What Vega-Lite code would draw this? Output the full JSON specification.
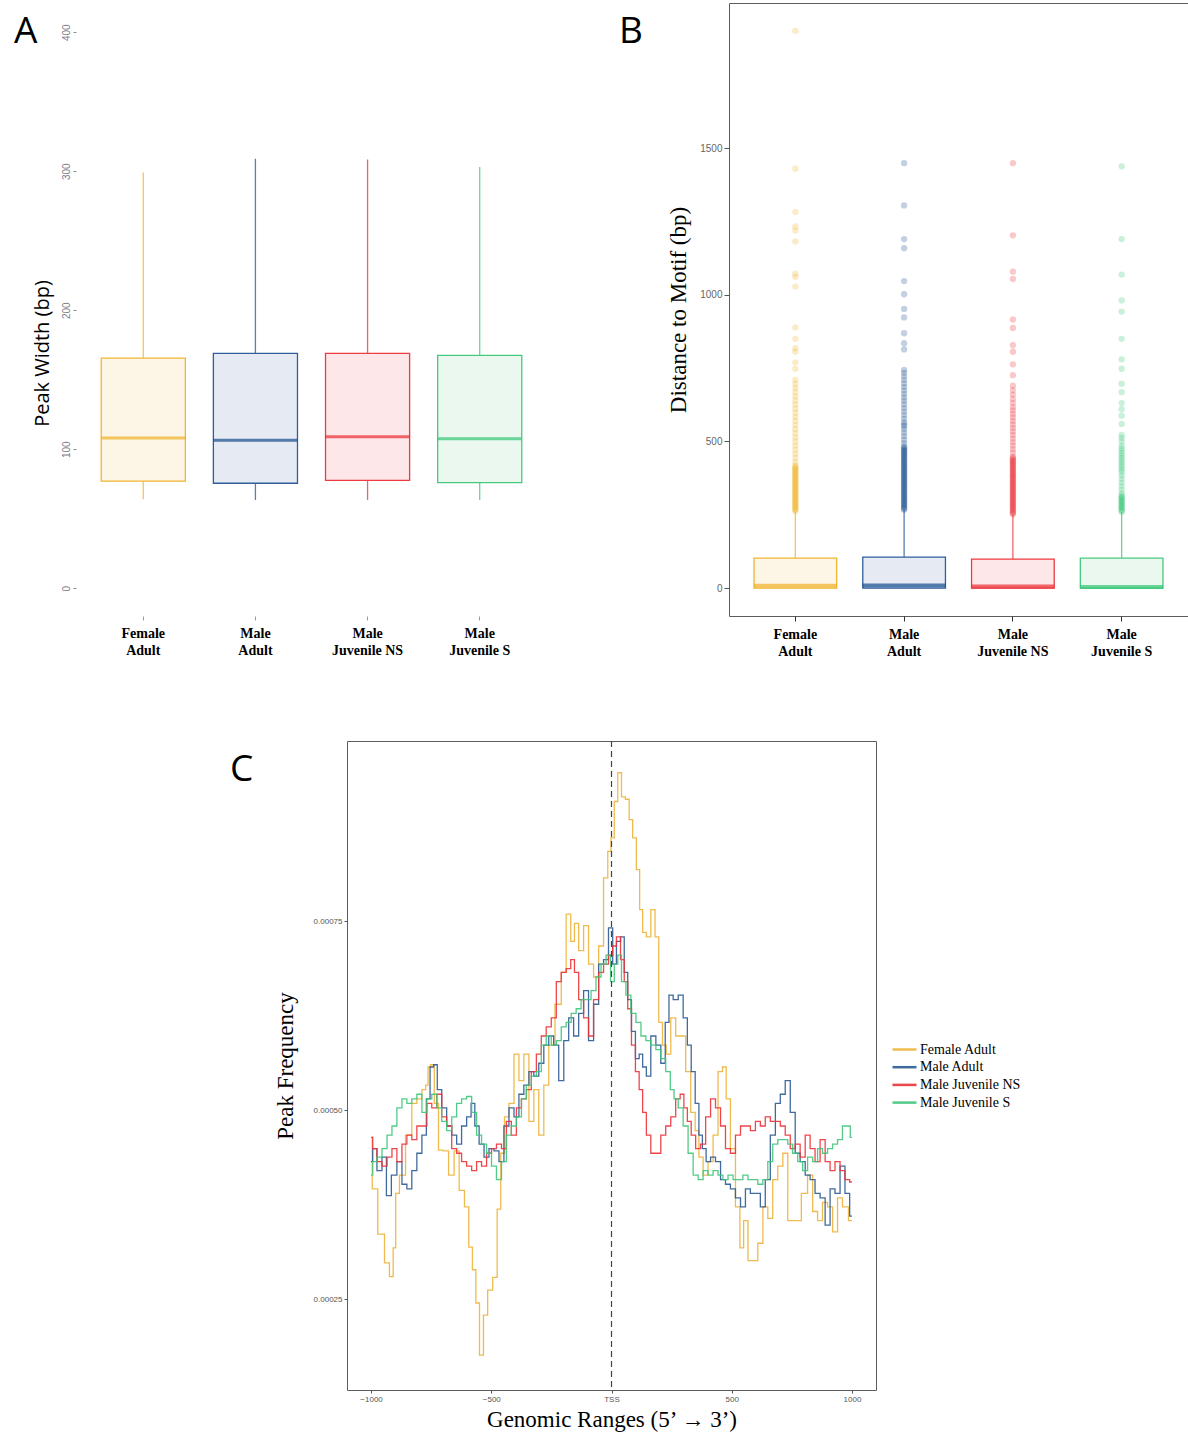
{
  "$schema": "https://vega.github.io/schema/vega-lite/v6.json",
  "padding": {"left": 14, "top": 2, "right": 0, "bottom": 0},
  "background": "white",
  "spacing": 80,
  "resolve": {"scale": {"color": "independent", "stroke": "independent", "fill": "independent"}, "legend": {"color": "independent"}},
  "config": {
    "view": {"stroke": null},
    "axis": {"grid": false},
    "font": "Liberation Sans"
  },
  "datasets": {
    "widthBoxes": [
      {"group": "Female Adult", "lo": 64, "q1": 77, "med": 108, "q3": 165.5, "hi": 299},
      {"group": "Male Adult", "lo": 63.5, "q1": 75.5, "med": 106.5, "q3": 169, "hi": 309},
      {"group": "Male Juvenile NS", "lo": 63.5, "q1": 77.5, "med": 109, "q3": 169, "hi": 308.5},
      {"group": "Male Juvenile S", "lo": 63.5, "q1": 76, "med": 107.5, "q3": 167.5, "hi": 303}
    ],
    "motifBoxes": [
      {"group": "Female Adult", "q1": 0, "med": 8, "q3": 102, "hi": 262},
      {"group": "Male Adult", "q1": 0, "med": 9, "q3": 106, "hi": 267},
      {"group": "Male Juvenile NS", "q1": 0, "med": 6, "q3": 99, "hi": 252},
      {"group": "Male Juvenile S", "q1": 0, "med": 4, "q3": 102, "hi": 260}
    ],
    "outliers": [
      {"group": "Female Adult", "dist": 262}, {"group": "Female Adult", "dist": 266}, {"group": "Female Adult", "dist": 270}, {"group": "Female Adult", "dist": 274}, {"group": "Female Adult", "dist": 278}, {"group": "Female Adult", "dist": 282}, {"group": "Female Adult", "dist": 286}, {"group": "Female Adult", "dist": 290}, {"group": "Female Adult", "dist": 294}, {"group": "Female Adult", "dist": 298}, {"group": "Female Adult", "dist": 302}, {"group": "Female Adult", "dist": 306}, {"group": "Female Adult", "dist": 310}, {"group": "Female Adult", "dist": 314}, {"group": "Female Adult", "dist": 318}, {"group": "Female Adult", "dist": 322}, {"group": "Female Adult", "dist": 326}, {"group": "Female Adult", "dist": 330}, {"group": "Female Adult", "dist": 334}, {"group": "Female Adult", "dist": 338}, {"group": "Female Adult", "dist": 342}, {"group": "Female Adult", "dist": 346}, {"group": "Female Adult", "dist": 350}, {"group": "Female Adult", "dist": 354}, {"group": "Female Adult", "dist": 358}, {"group": "Female Adult", "dist": 362}, {"group": "Female Adult", "dist": 366}, {"group": "Female Adult", "dist": 370}, {"group": "Female Adult", "dist": 374}, {"group": "Female Adult", "dist": 378}, {"group": "Female Adult", "dist": 382}, {"group": "Female Adult", "dist": 386}, {"group": "Female Adult", "dist": 390}, {"group": "Female Adult", "dist": 394}, {"group": "Female Adult", "dist": 398}, {"group": "Female Adult", "dist": 402}, {"group": "Female Adult", "dist": 406}, {"group": "Female Adult", "dist": 410}, {"group": "Female Adult", "dist": 414}, {"group": "Female Adult", "dist": 418},
      {"group": "Female Adult", "dist": 430}, {"group": "Female Adult", "dist": 444}, {"group": "Female Adult", "dist": 458}, {"group": "Female Adult", "dist": 472}, {"group": "Female Adult", "dist": 486}, {"group": "Female Adult", "dist": 500}, {"group": "Female Adult", "dist": 514}, {"group": "Female Adult", "dist": 528}, {"group": "Female Adult", "dist": 542}, {"group": "Female Adult", "dist": 556}, {"group": "Female Adult", "dist": 570}, {"group": "Female Adult", "dist": 584}, {"group": "Female Adult", "dist": 598}, {"group": "Female Adult", "dist": 612}, {"group": "Female Adult", "dist": 626}, {"group": "Female Adult", "dist": 640}, {"group": "Female Adult", "dist": 654}, {"group": "Female Adult", "dist": 668}, {"group": "Female Adult", "dist": 682}, {"group": "Female Adult", "dist": 696}, {"group": "Female Adult", "dist": 710},
      {"group": "Female Adult", "dist": 748}, {"group": "Female Adult", "dist": 770}, {"group": "Female Adult", "dist": 806}, {"group": "Female Adult", "dist": 818}, {"group": "Female Adult", "dist": 850}, {"group": "Female Adult", "dist": 889}, {"group": "Female Adult", "dist": 1028}, {"group": "Female Adult", "dist": 1061}, {"group": "Female Adult", "dist": 1072}, {"group": "Female Adult", "dist": 1182}, {"group": "Female Adult", "dist": 1219}, {"group": "Female Adult", "dist": 1233}, {"group": "Female Adult", "dist": 1282}, {"group": "Female Adult", "dist": 1430}, {"group": "Female Adult", "dist": 1900},
      {"group": "Male Adult", "dist": 267}, {"group": "Male Adult", "dist": 271}, {"group": "Male Adult", "dist": 275}, {"group": "Male Adult", "dist": 279}, {"group": "Male Adult", "dist": 283}, {"group": "Male Adult", "dist": 287}, {"group": "Male Adult", "dist": 291}, {"group": "Male Adult", "dist": 295}, {"group": "Male Adult", "dist": 299}, {"group": "Male Adult", "dist": 303}, {"group": "Male Adult", "dist": 307}, {"group": "Male Adult", "dist": 311}, {"group": "Male Adult", "dist": 315}, {"group": "Male Adult", "dist": 319}, {"group": "Male Adult", "dist": 323}, {"group": "Male Adult", "dist": 327}, {"group": "Male Adult", "dist": 331}, {"group": "Male Adult", "dist": 335}, {"group": "Male Adult", "dist": 339}, {"group": "Male Adult", "dist": 343}, {"group": "Male Adult", "dist": 347}, {"group": "Male Adult", "dist": 351}, {"group": "Male Adult", "dist": 355}, {"group": "Male Adult", "dist": 359}, {"group": "Male Adult", "dist": 363}, {"group": "Male Adult", "dist": 367}, {"group": "Male Adult", "dist": 371}, {"group": "Male Adult", "dist": 375}, {"group": "Male Adult", "dist": 379}, {"group": "Male Adult", "dist": 383}, {"group": "Male Adult", "dist": 387}, {"group": "Male Adult", "dist": 391}, {"group": "Male Adult", "dist": 395}, {"group": "Male Adult", "dist": 399}, {"group": "Male Adult", "dist": 403}, {"group": "Male Adult", "dist": 407}, {"group": "Male Adult", "dist": 411}, {"group": "Male Adult", "dist": 415}, {"group": "Male Adult", "dist": 419}, {"group": "Male Adult", "dist": 423}, {"group": "Male Adult", "dist": 427}, {"group": "Male Adult", "dist": 431}, {"group": "Male Adult", "dist": 435}, {"group": "Male Adult", "dist": 439}, {"group": "Male Adult", "dist": 443}, {"group": "Male Adult", "dist": 447}, {"group": "Male Adult", "dist": 451}, {"group": "Male Adult", "dist": 455}, {"group": "Male Adult", "dist": 459}, {"group": "Male Adult", "dist": 463}, {"group": "Male Adult", "dist": 467}, {"group": "Male Adult", "dist": 471}, {"group": "Male Adult", "dist": 475}, {"group": "Male Adult", "dist": 479}, {"group": "Male Adult", "dist": 483},
      {"group": "Male Adult", "dist": 494}, {"group": "Male Adult", "dist": 506}, {"group": "Male Adult", "dist": 518}, {"group": "Male Adult", "dist": 530}, {"group": "Male Adult", "dist": 542}, {"group": "Male Adult", "dist": 552}, {"group": "Male Adult", "dist": 558}, {"group": "Male Adult", "dist": 566}, {"group": "Male Adult", "dist": 578}, {"group": "Male Adult", "dist": 590}, {"group": "Male Adult", "dist": 602}, {"group": "Male Adult", "dist": 614}, {"group": "Male Adult", "dist": 626}, {"group": "Male Adult", "dist": 638}, {"group": "Male Adult", "dist": 650}, {"group": "Male Adult", "dist": 662}, {"group": "Male Adult", "dist": 674}, {"group": "Male Adult", "dist": 686}, {"group": "Male Adult", "dist": 698}, {"group": "Male Adult", "dist": 710}, {"group": "Male Adult", "dist": 722}, {"group": "Male Adult", "dist": 734}, {"group": "Male Adult", "dist": 744},
      {"group": "Male Adult", "dist": 814}, {"group": "Male Adult", "dist": 835}, {"group": "Male Adult", "dist": 869}, {"group": "Male Adult", "dist": 923}, {"group": "Male Adult", "dist": 952}, {"group": "Male Adult", "dist": 1002}, {"group": "Male Adult", "dist": 1047}, {"group": "Male Adult", "dist": 1159}, {"group": "Male Adult", "dist": 1190}, {"group": "Male Adult", "dist": 1305}, {"group": "Male Adult", "dist": 1449},
      {"group": "Male Juvenile NS", "dist": 252}, {"group": "Male Juvenile NS", "dist": 256}, {"group": "Male Juvenile NS", "dist": 260}, {"group": "Male Juvenile NS", "dist": 264}, {"group": "Male Juvenile NS", "dist": 268}, {"group": "Male Juvenile NS", "dist": 272}, {"group": "Male Juvenile NS", "dist": 276}, {"group": "Male Juvenile NS", "dist": 280}, {"group": "Male Juvenile NS", "dist": 284}, {"group": "Male Juvenile NS", "dist": 288}, {"group": "Male Juvenile NS", "dist": 292}, {"group": "Male Juvenile NS", "dist": 296}, {"group": "Male Juvenile NS", "dist": 300}, {"group": "Male Juvenile NS", "dist": 304}, {"group": "Male Juvenile NS", "dist": 308}, {"group": "Male Juvenile NS", "dist": 312}, {"group": "Male Juvenile NS", "dist": 316}, {"group": "Male Juvenile NS", "dist": 320}, {"group": "Male Juvenile NS", "dist": 324}, {"group": "Male Juvenile NS", "dist": 328}, {"group": "Male Juvenile NS", "dist": 332}, {"group": "Male Juvenile NS", "dist": 336}, {"group": "Male Juvenile NS", "dist": 340}, {"group": "Male Juvenile NS", "dist": 344}, {"group": "Male Juvenile NS", "dist": 348}, {"group": "Male Juvenile NS", "dist": 352}, {"group": "Male Juvenile NS", "dist": 356}, {"group": "Male Juvenile NS", "dist": 360}, {"group": "Male Juvenile NS", "dist": 364}, {"group": "Male Juvenile NS", "dist": 368}, {"group": "Male Juvenile NS", "dist": 372}, {"group": "Male Juvenile NS", "dist": 376}, {"group": "Male Juvenile NS", "dist": 380}, {"group": "Male Juvenile NS", "dist": 384}, {"group": "Male Juvenile NS", "dist": 388}, {"group": "Male Juvenile NS", "dist": 392}, {"group": "Male Juvenile NS", "dist": 396}, {"group": "Male Juvenile NS", "dist": 400}, {"group": "Male Juvenile NS", "dist": 404}, {"group": "Male Juvenile NS", "dist": 408}, {"group": "Male Juvenile NS", "dist": 412}, {"group": "Male Juvenile NS", "dist": 416}, {"group": "Male Juvenile NS", "dist": 420}, {"group": "Male Juvenile NS", "dist": 424}, {"group": "Male Juvenile NS", "dist": 428}, {"group": "Male Juvenile NS", "dist": 432}, {"group": "Male Juvenile NS", "dist": 436}, {"group": "Male Juvenile NS", "dist": 440}, {"group": "Male Juvenile NS", "dist": 444}, {"group": "Male Juvenile NS", "dist": 448},
      {"group": "Male Juvenile NS", "dist": 462}, {"group": "Male Juvenile NS", "dist": 474}, {"group": "Male Juvenile NS", "dist": 486}, {"group": "Male Juvenile NS", "dist": 498}, {"group": "Male Juvenile NS", "dist": 510}, {"group": "Male Juvenile NS", "dist": 522}, {"group": "Male Juvenile NS", "dist": 534}, {"group": "Male Juvenile NS", "dist": 546}, {"group": "Male Juvenile NS", "dist": 558}, {"group": "Male Juvenile NS", "dist": 570}, {"group": "Male Juvenile NS", "dist": 582}, {"group": "Male Juvenile NS", "dist": 594}, {"group": "Male Juvenile NS", "dist": 606}, {"group": "Male Juvenile NS", "dist": 617}, {"group": "Male Juvenile NS", "dist": 631}, {"group": "Male Juvenile NS", "dist": 645}, {"group": "Male Juvenile NS", "dist": 660}, {"group": "Male Juvenile NS", "dist": 675}, {"group": "Male Juvenile NS", "dist": 690},
      {"group": "Male Juvenile NS", "dist": 726}, {"group": "Male Juvenile NS", "dist": 763}, {"group": "Male Juvenile NS", "dist": 806}, {"group": "Male Juvenile NS", "dist": 828}, {"group": "Male Juvenile NS", "dist": 887}, {"group": "Male Juvenile NS", "dist": 916}, {"group": "Male Juvenile NS", "dist": 1054}, {"group": "Male Juvenile NS", "dist": 1079}, {"group": "Male Juvenile NS", "dist": 1203}, {"group": "Male Juvenile NS", "dist": 1449},
      {"group": "Male Juvenile S", "dist": 260}, {"group": "Male Juvenile S", "dist": 264}, {"group": "Male Juvenile S", "dist": 268}, {"group": "Male Juvenile S", "dist": 272}, {"group": "Male Juvenile S", "dist": 276}, {"group": "Male Juvenile S", "dist": 280}, {"group": "Male Juvenile S", "dist": 284}, {"group": "Male Juvenile S", "dist": 288}, {"group": "Male Juvenile S", "dist": 292}, {"group": "Male Juvenile S", "dist": 296}, {"group": "Male Juvenile S", "dist": 300}, {"group": "Male Juvenile S", "dist": 304}, {"group": "Male Juvenile S", "dist": 308}, {"group": "Male Juvenile S", "dist": 312}, {"group": "Male Juvenile S", "dist": 316},
      {"group": "Male Juvenile S", "dist": 324}, {"group": "Male Juvenile S", "dist": 336}, {"group": "Male Juvenile S", "dist": 348}, {"group": "Male Juvenile S", "dist": 360}, {"group": "Male Juvenile S", "dist": 372}, {"group": "Male Juvenile S", "dist": 384}, {"group": "Male Juvenile S", "dist": 396}, {"group": "Male Juvenile S", "dist": 404}, {"group": "Male Juvenile S", "dist": 412}, {"group": "Male Juvenile S", "dist": 420}, {"group": "Male Juvenile S", "dist": 428}, {"group": "Male Juvenile S", "dist": 436}, {"group": "Male Juvenile S", "dist": 444}, {"group": "Male Juvenile S", "dist": 452}, {"group": "Male Juvenile S", "dist": 460}, {"group": "Male Juvenile S", "dist": 468}, {"group": "Male Juvenile S", "dist": 476}, {"group": "Male Juvenile S", "dist": 486}, {"group": "Male Juvenile S", "dist": 500}, {"group": "Male Juvenile S", "dist": 512}, {"group": "Male Juvenile S", "dist": 522},
      {"group": "Male Juvenile S", "dist": 560}, {"group": "Male Juvenile S", "dist": 588}, {"group": "Male Juvenile S", "dist": 610}, {"group": "Male Juvenile S", "dist": 631}, {"group": "Male Juvenile S", "dist": 668}, {"group": "Male Juvenile S", "dist": 697}, {"group": "Male Juvenile S", "dist": 748}, {"group": "Male Juvenile S", "dist": 780}, {"group": "Male Juvenile S", "dist": 850}, {"group": "Male Juvenile S", "dist": 943}, {"group": "Male Juvenile S", "dist": 981}, {"group": "Male Juvenile S", "dist": 1069}, {"group": "Male Juvenile S", "dist": 1190}, {"group": "Male Juvenile S", "dist": 1438}
    ],
    "profile": [
      {"group": "Female Adult", "pos": -1000, "freq": 4.64e-4}, {"group": "Female Adult", "pos": -990, "freq": 3.96e-4}, {"group": "Female Adult", "pos": -954, "freq": 3.36e-4}, {"group": "Female Adult", "pos": -934, "freq": 2.98e-4}, {"group": "Female Adult", "pos": -913, "freq": 2.80e-4}, {"group": "Female Adult", "pos": -903, "freq": 3.18e-4}, {"group": "Female Adult", "pos": -892, "freq": 3.90e-4}, {"group": "Female Adult", "pos": -872, "freq": 4.14e-4}, {"group": "Female Adult", "pos": -841, "freq": 4.67e-4}, {"group": "Female Adult", "pos": -820, "freq": 5.09e-4}, {"group": "Female Adult", "pos": -799, "freq": 5.15e-4}, {"group": "Female Adult", "pos": -778, "freq": 5.27e-4}, {"group": "Female Adult", "pos": -768, "freq": 5.33e-4}, {"group": "Female Adult", "pos": -758, "freq": 5.57e-4}, {"group": "Female Adult", "pos": -747, "freq": 5.60e-4}, {"group": "Female Adult", "pos": -727, "freq": 5.09e-4}, {"group": "Female Adult", "pos": -712, "freq": 4.47e-4}, {"group": "Female Adult", "pos": -690, "freq": 4.46e-4}, {"group": "Female Adult", "pos": -665, "freq": 4.14e-4}, {"group": "Female Adult", "pos": -644, "freq": 4.46e-4}, {"group": "Female Adult", "pos": -623, "freq": 3.94e-4}, {"group": "Female Adult", "pos": -600, "freq": 3.72e-4}, {"group": "Female Adult", "pos": -587, "freq": 3.19e-4}, {"group": "Female Adult", "pos": -570, "freq": 2.89e-4}, {"group": "Female Adult", "pos": -558, "freq": 2.45e-4}, {"group": "Female Adult", "pos": -540, "freq": 1.76e-4}, {"group": "Female Adult", "pos": -525, "freq": 2.29e-4}, {"group": "Female Adult", "pos": -505, "freq": 2.62e-4}, {"group": "Female Adult", "pos": -483, "freq": 2.79e-4}, {"group": "Female Adult", "pos": -468, "freq": 3.69e-4}, {"group": "Female Adult", "pos": -453, "freq": 4.43e-4}, {"group": "Female Adult", "pos": -437, "freq": 4.91e-4}, {"group": "Female Adult", "pos": -416, "freq": 5.09e-4}, {"group": "Female Adult", "pos": -395, "freq": 5.74e-4}, {"group": "Female Adult", "pos": -375, "freq": 5.39e-4}, {"group": "Female Adult", "pos": -354, "freq": 5.74e-4}, {"group": "Female Adult", "pos": -333, "freq": 4.85e-4}, {"group": "Female Adult", "pos": -313, "freq": 5.27e-4}, {"group": "Female Adult", "pos": -292, "freq": 4.67e-4}, {"group": "Female Adult", "pos": -271, "freq": 5.33e-4}, {"group": "Female Adult", "pos": -251, "freq": 5.86e-4}, {"group": "Female Adult", "pos": -219, "freq": 6.40e-4}, {"group": "Female Adult", "pos": -199, "freq": 6.82e-4}, {"group": "Female Adult", "pos": -178, "freq": 7.59e-4}, {"group": "Female Adult", "pos": -161, "freq": 7.23e-4}, {"group": "Female Adult", "pos": -147, "freq": 7.47e-4}, {"group": "Female Adult", "pos": -126, "freq": 7.11e-4}, {"group": "Female Adult", "pos": -106, "freq": 7.44e-4}, {"group": "Female Adult", "pos": -85, "freq": 6.93e-4}, {"group": "Female Adult", "pos": -64, "freq": 6.76e-4}, {"group": "Female Adult", "pos": -43, "freq": 7.17e-4}, {"group": "Female Adult", "pos": -23, "freq": 8.07e-4}, {"group": "Female Adult", "pos": -8, "freq": 8.42e-4}, {"group": "Female Adult", "pos": 4, "freq": 8.60e-4}, {"group": "Female Adult", "pos": 19, "freq": 9.08e-4}, {"group": "Female Adult", "pos": 33, "freq": 9.46e-4}, {"group": "Female Adult", "pos": 50, "freq": 9.14e-4}, {"group": "Female Adult", "pos": 66, "freq": 9.11e-4}, {"group": "Female Adult", "pos": 81, "freq": 8.84e-4}, {"group": "Female Adult", "pos": 95, "freq": 8.60e-4}, {"group": "Female Adult", "pos": 112, "freq": 8.18e-4}, {"group": "Female Adult", "pos": 122, "freq": 7.65e-4}, {"group": "Female Adult", "pos": 137, "freq": 7.35e-4}, {"group": "Female Adult", "pos": 153, "freq": 7.29e-4}, {"group": "Female Adult", "pos": 174, "freq": 7.65e-4}, {"group": "Female Adult", "pos": 188, "freq": 7.29e-4}, {"group": "Female Adult", "pos": 205, "freq": 6.16e-4}, {"group": "Female Adult", "pos": 219, "freq": 5.86e-4}, {"group": "Female Adult", "pos": 236, "freq": 5.74e-4}, {"group": "Female Adult", "pos": 257, "freq": 6.22e-4}, {"group": "Female Adult", "pos": 277, "freq": 5.98e-4}, {"group": "Female Adult", "pos": 298, "freq": 5.98e-4}, {"group": "Female Adult", "pos": 319, "freq": 5.51e-4}, {"group": "Female Adult", "pos": 340, "freq": 4.97e-4}, {"group": "Female Adult", "pos": 356, "freq": 4.73e-4}, {"group": "Female Adult", "pos": 371, "freq": 4.38e-4}, {"group": "Female Adult", "pos": 391, "freq": 4.14e-4}, {"group": "Female Adult", "pos": 412, "freq": 4.32e-4}, {"group": "Female Adult", "pos": 433, "freq": 4.67e-4}, {"group": "Female Adult", "pos": 453, "freq": 5.51e-4}, {"group": "Female Adult", "pos": 470, "freq": 5.57e-4}, {"group": "Female Adult", "pos": 484, "freq": 5.15e-4}, {"group": "Female Adult", "pos": 505, "freq": 4.49e-4}, {"group": "Female Adult", "pos": 526, "freq": 3.72e-4}, {"group": "Female Adult", "pos": 542, "freq": 3.18e-4}, {"group": "Female Adult", "pos": 557, "freq": 3.54e-4}, {"group": "Female Adult", "pos": 578, "freq": 3.01e-4}, {"group": "Female Adult", "pos": 598, "freq": 3.01e-4}, {"group": "Female Adult", "pos": 619, "freq": 3.24e-4}, {"group": "Female Adult", "pos": 640, "freq": 3.72e-4}, {"group": "Female Adult", "pos": 660, "freq": 3.57e-4}, {"group": "Female Adult", "pos": 681, "freq": 4.08e-4}, {"group": "Female Adult", "pos": 702, "freq": 4.26e-4}, {"group": "Female Adult", "pos": 723, "freq": 4.43e-4}, {"group": "Female Adult", "pos": 743, "freq": 3.54e-4}, {"group": "Female Adult", "pos": 774, "freq": 3.54e-4}, {"group": "Female Adult", "pos": 805, "freq": 3.90e-4}, {"group": "Female Adult", "pos": 826, "freq": 4.14e-4}, {"group": "Female Adult", "pos": 847, "freq": 3.66e-4}, {"group": "Female Adult", "pos": 867, "freq": 3.54e-4}, {"group": "Female Adult", "pos": 888, "freq": 3.78e-4}, {"group": "Female Adult", "pos": 909, "freq": 3.72e-4}, {"group": "Female Adult", "pos": 930, "freq": 3.39e-4}, {"group": "Female Adult", "pos": 950, "freq": 3.84e-4}, {"group": "Female Adult", "pos": 971, "freq": 3.72e-4}, {"group": "Female Adult", "pos": 1000, "freq": 3.54e-4},
      {"group": "Male Adult", "pos": -1000, "freq": 4.32e-4}, {"group": "Male Adult", "pos": -986, "freq": 4.49e-4}, {"group": "Male Adult", "pos": -965, "freq": 4.20e-4}, {"group": "Male Adult", "pos": -944, "freq": 4.38e-4}, {"group": "Male Adult", "pos": -928, "freq": 3.87e-4}, {"group": "Male Adult", "pos": -903, "freq": 4.14e-4}, {"group": "Male Adult", "pos": -882, "freq": 4.32e-4}, {"group": "Male Adult", "pos": -861, "freq": 4.02e-4}, {"group": "Male Adult", "pos": -841, "freq": 3.96e-4}, {"group": "Male Adult", "pos": -820, "freq": 4.20e-4}, {"group": "Male Adult", "pos": -799, "freq": 4.43e-4}, {"group": "Male Adult", "pos": -778, "freq": 4.67e-4}, {"group": "Male Adult", "pos": -762, "freq": 5.15e-4}, {"group": "Male Adult", "pos": -747, "freq": 5.57e-4}, {"group": "Male Adult", "pos": -733, "freq": 5.60e-4}, {"group": "Male Adult", "pos": -716, "freq": 5.27e-4}, {"group": "Male Adult", "pos": -696, "freq": 5.03e-4}, {"group": "Male Adult", "pos": -675, "freq": 4.79e-4}, {"group": "Male Adult", "pos": -654, "freq": 4.67e-4}, {"group": "Male Adult", "pos": -634, "freq": 4.55e-4}, {"group": "Male Adult", "pos": -613, "freq": 4.79e-4}, {"group": "Male Adult", "pos": -592, "freq": 4.91e-4}, {"group": "Male Adult", "pos": -576, "freq": 5.09e-4}, {"group": "Male Adult", "pos": -561, "freq": 4.79e-4}, {"group": "Male Adult", "pos": -540, "freq": 4.55e-4}, {"group": "Male Adult", "pos": -520, "freq": 4.38e-4}, {"group": "Male Adult", "pos": -499, "freq": 4.49e-4}, {"group": "Male Adult", "pos": -478, "freq": 4.46e-4}, {"group": "Male Adult", "pos": -458, "freq": 4.32e-4}, {"group": "Male Adult", "pos": -437, "freq": 4.79e-4}, {"group": "Male Adult", "pos": -416, "freq": 5.03e-4}, {"group": "Male Adult", "pos": -395, "freq": 4.91e-4}, {"group": "Male Adult", "pos": -375, "freq": 5.21e-4}, {"group": "Male Adult", "pos": -354, "freq": 5.33e-4}, {"group": "Male Adult", "pos": -333, "freq": 5.51e-4}, {"group": "Male Adult", "pos": -313, "freq": 5.45e-4}, {"group": "Male Adult", "pos": -292, "freq": 5.62e-4}, {"group": "Male Adult", "pos": -271, "freq": 5.86e-4}, {"group": "Male Adult", "pos": -251, "freq": 5.98e-4}, {"group": "Male Adult", "pos": -230, "freq": 5.86e-4}, {"group": "Male Adult", "pos": -209, "freq": 5.39e-4}, {"group": "Male Adult", "pos": -188, "freq": 5.92e-4}, {"group": "Male Adult", "pos": -168, "freq": 6.22e-4}, {"group": "Male Adult", "pos": -147, "freq": 5.98e-4}, {"group": "Male Adult", "pos": -126, "freq": 6.28e-4}, {"group": "Male Adult", "pos": -106, "freq": 6.58e-4}, {"group": "Male Adult", "pos": -85, "freq": 5.92e-4}, {"group": "Male Adult", "pos": -64, "freq": 6.40e-4}, {"group": "Male Adult", "pos": -43, "freq": 6.93e-4}, {"group": "Male Adult", "pos": -23, "freq": 6.99e-4}, {"group": "Male Adult", "pos": -2, "freq": 7.41e-4}, {"group": "Male Adult", "pos": 12, "freq": 6.93e-4}, {"group": "Male Adult", "pos": 29, "freq": 7.23e-4}, {"group": "Male Adult", "pos": 46, "freq": 7.29e-4}, {"group": "Male Adult", "pos": 60, "freq": 6.82e-4}, {"group": "Male Adult", "pos": 75, "freq": 6.46e-4}, {"group": "Male Adult", "pos": 91, "freq": 6.04e-4}, {"group": "Male Adult", "pos": 108, "freq": 5.68e-4}, {"group": "Male Adult", "pos": 122, "freq": 5.74e-4}, {"group": "Male Adult", "pos": 137, "freq": 5.57e-4}, {"group": "Male Adult", "pos": 153, "freq": 5.45e-4}, {"group": "Male Adult", "pos": 174, "freq": 5.98e-4}, {"group": "Male Adult", "pos": 195, "freq": 5.86e-4}, {"group": "Male Adult", "pos": 215, "freq": 5.62e-4}, {"group": "Male Adult", "pos": 232, "freq": 6.16e-4}, {"group": "Male Adult", "pos": 246, "freq": 6.52e-4}, {"group": "Male Adult", "pos": 267, "freq": 6.46e-4}, {"group": "Male Adult", "pos": 288, "freq": 6.52e-4}, {"group": "Male Adult", "pos": 308, "freq": 6.22e-4}, {"group": "Male Adult", "pos": 323, "freq": 5.86e-4}, {"group": "Male Adult", "pos": 340, "freq": 5.51e-4}, {"group": "Male Adult", "pos": 356, "freq": 5.09e-4}, {"group": "Male Adult", "pos": 371, "freq": 4.67e-4}, {"group": "Male Adult", "pos": 385, "freq": 4.49e-4}, {"group": "Male Adult", "pos": 402, "freq": 4.32e-4}, {"group": "Male Adult", "pos": 422, "freq": 4.38e-4}, {"group": "Male Adult", "pos": 443, "freq": 4.32e-4}, {"group": "Male Adult", "pos": 464, "freq": 4.08e-4}, {"group": "Male Adult", "pos": 484, "freq": 4.02e-4}, {"group": "Male Adult", "pos": 505, "freq": 3.96e-4}, {"group": "Male Adult", "pos": 526, "freq": 3.84e-4}, {"group": "Male Adult", "pos": 547, "freq": 3.72e-4}, {"group": "Male Adult", "pos": 567, "freq": 3.96e-4}, {"group": "Male Adult", "pos": 588, "freq": 3.90e-4}, {"group": "Male Adult", "pos": 609, "freq": 3.90e-4}, {"group": "Male Adult", "pos": 629, "freq": 3.72e-4}, {"group": "Male Adult", "pos": 650, "freq": 4.08e-4}, {"group": "Male Adult", "pos": 671, "freq": 4.67e-4}, {"group": "Male Adult", "pos": 692, "freq": 5.09e-4}, {"group": "Male Adult", "pos": 712, "freq": 5.21e-4}, {"group": "Male Adult", "pos": 733, "freq": 5.39e-4}, {"group": "Male Adult", "pos": 754, "freq": 4.97e-4}, {"group": "Male Adult", "pos": 774, "freq": 4.43e-4}, {"group": "Male Adult", "pos": 795, "freq": 4.32e-4}, {"group": "Male Adult", "pos": 816, "freq": 4.14e-4}, {"group": "Male Adult", "pos": 836, "freq": 4.08e-4}, {"group": "Male Adult", "pos": 857, "freq": 3.90e-4}, {"group": "Male Adult", "pos": 878, "freq": 3.84e-4}, {"group": "Male Adult", "pos": 899, "freq": 3.48e-4}, {"group": "Male Adult", "pos": 919, "freq": 3.96e-4}, {"group": "Male Adult", "pos": 940, "freq": 3.90e-4}, {"group": "Male Adult", "pos": 961, "freq": 4.26e-4}, {"group": "Male Adult", "pos": 981, "freq": 3.90e-4}, {"group": "Male Adult", "pos": 1000, "freq": 3.60e-4},
      {"group": "Male Juvenile NS", "pos": -1000, "freq": 4.64e-4}, {"group": "Male Juvenile NS", "pos": -986, "freq": 4.49e-4}, {"group": "Male Juvenile NS", "pos": -965, "freq": 4.32e-4}, {"group": "Male Juvenile NS", "pos": -944, "freq": 4.26e-4}, {"group": "Male Juvenile NS", "pos": -923, "freq": 4.38e-4}, {"group": "Male Juvenile NS", "pos": -903, "freq": 4.49e-4}, {"group": "Male Juvenile NS", "pos": -882, "freq": 4.32e-4}, {"group": "Male Juvenile NS", "pos": -861, "freq": 4.55e-4}, {"group": "Male Juvenile NS", "pos": -841, "freq": 4.67e-4}, {"group": "Male Juvenile NS", "pos": -820, "freq": 4.61e-4}, {"group": "Male Juvenile NS", "pos": -799, "freq": 4.79e-4}, {"group": "Male Juvenile NS", "pos": -778, "freq": 4.79e-4}, {"group": "Male Juvenile NS", "pos": -758, "freq": 5.09e-4}, {"group": "Male Juvenile NS", "pos": -737, "freq": 5.03e-4}, {"group": "Male Juvenile NS", "pos": -716, "freq": 5.21e-4}, {"group": "Male Juvenile NS", "pos": -696, "freq": 4.91e-4}, {"group": "Male Juvenile NS", "pos": -675, "freq": 4.79e-4}, {"group": "Male Juvenile NS", "pos": -654, "freq": 4.49e-4}, {"group": "Male Juvenile NS", "pos": -634, "freq": 4.43e-4}, {"group": "Male Juvenile NS", "pos": -613, "freq": 4.32e-4}, {"group": "Male Juvenile NS", "pos": -592, "freq": 4.26e-4}, {"group": "Male Juvenile NS", "pos": -571, "freq": 4.20e-4}, {"group": "Male Juvenile NS", "pos": -551, "freq": 4.32e-4}, {"group": "Male Juvenile NS", "pos": -530, "freq": 4.26e-4}, {"group": "Male Juvenile NS", "pos": -509, "freq": 4.43e-4}, {"group": "Male Juvenile NS", "pos": -489, "freq": 4.49e-4}, {"group": "Male Juvenile NS", "pos": -468, "freq": 4.55e-4}, {"group": "Male Juvenile NS", "pos": -447, "freq": 4.49e-4}, {"group": "Male Juvenile NS", "pos": -427, "freq": 4.85e-4}, {"group": "Male Juvenile NS", "pos": -406, "freq": 4.67e-4}, {"group": "Male Juvenile NS", "pos": -385, "freq": 5.03e-4}, {"group": "Male Juvenile NS", "pos": -364, "freq": 5.15e-4}, {"group": "Male Juvenile NS", "pos": -344, "freq": 5.27e-4}, {"group": "Male Juvenile NS", "pos": -323, "freq": 5.51e-4}, {"group": "Male Juvenile NS", "pos": -302, "freq": 5.74e-4}, {"group": "Male Juvenile NS", "pos": -282, "freq": 5.98e-4}, {"group": "Male Juvenile NS", "pos": -261, "freq": 6.10e-4}, {"group": "Male Juvenile NS", "pos": -240, "freq": 6.22e-4}, {"group": "Male Juvenile NS", "pos": -219, "freq": 6.70e-4}, {"group": "Male Juvenile NS", "pos": -199, "freq": 6.82e-4}, {"group": "Male Juvenile NS", "pos": -178, "freq": 6.87e-4}, {"group": "Male Juvenile NS", "pos": -161, "freq": 6.99e-4}, {"group": "Male Juvenile NS", "pos": -147, "freq": 6.82e-4}, {"group": "Male Juvenile NS", "pos": -126, "freq": 6.46e-4}, {"group": "Male Juvenile NS", "pos": -106, "freq": 6.22e-4}, {"group": "Male Juvenile NS", "pos": -85, "freq": 5.98e-4}, {"group": "Male Juvenile NS", "pos": -64, "freq": 6.46e-4}, {"group": "Male Juvenile NS", "pos": -43, "freq": 6.82e-4}, {"group": "Male Juvenile NS", "pos": -23, "freq": 6.93e-4}, {"group": "Male Juvenile NS", "pos": -2, "freq": 7.05e-4}, {"group": "Male Juvenile NS", "pos": 12, "freq": 7.17e-4}, {"group": "Male Juvenile NS", "pos": 29, "freq": 7.29e-4}, {"group": "Male Juvenile NS", "pos": 46, "freq": 6.99e-4}, {"group": "Male Juvenile NS", "pos": 60, "freq": 6.70e-4}, {"group": "Male Juvenile NS", "pos": 75, "freq": 6.34e-4}, {"group": "Male Juvenile NS", "pos": 91, "freq": 5.86e-4}, {"group": "Male Juvenile NS", "pos": 108, "freq": 5.51e-4}, {"group": "Male Juvenile NS", "pos": 122, "freq": 5.27e-4}, {"group": "Male Juvenile NS", "pos": 137, "freq": 4.97e-4}, {"group": "Male Juvenile NS", "pos": 153, "freq": 4.67e-4}, {"group": "Male Juvenile NS", "pos": 174, "freq": 4.43e-4}, {"group": "Male Juvenile NS", "pos": 195, "freq": 4.43e-4}, {"group": "Male Juvenile NS", "pos": 215, "freq": 4.67e-4}, {"group": "Male Juvenile NS", "pos": 236, "freq": 4.79e-4}, {"group": "Male Juvenile NS", "pos": 257, "freq": 4.91e-4}, {"group": "Male Juvenile NS", "pos": 277, "freq": 5.15e-4}, {"group": "Male Juvenile NS", "pos": 294, "freq": 5.21e-4}, {"group": "Male Juvenile NS", "pos": 308, "freq": 5.03e-4}, {"group": "Male Juvenile NS", "pos": 323, "freq": 4.85e-4}, {"group": "Male Juvenile NS", "pos": 340, "freq": 4.67e-4}, {"group": "Male Juvenile NS", "pos": 360, "freq": 4.49e-4}, {"group": "Male Juvenile NS", "pos": 381, "freq": 4.55e-4}, {"group": "Male Juvenile NS", "pos": 402, "freq": 4.91e-4}, {"group": "Male Juvenile NS", "pos": 422, "freq": 5.15e-4}, {"group": "Male Juvenile NS", "pos": 443, "freq": 5.03e-4}, {"group": "Male Juvenile NS", "pos": 464, "freq": 4.79e-4}, {"group": "Male Juvenile NS", "pos": 484, "freq": 4.49e-4}, {"group": "Male Juvenile NS", "pos": 505, "freq": 4.43e-4}, {"group": "Male Juvenile NS", "pos": 526, "freq": 4.67e-4}, {"group": "Male Juvenile NS", "pos": 547, "freq": 4.79e-4}, {"group": "Male Juvenile NS", "pos": 567, "freq": 4.79e-4}, {"group": "Male Juvenile NS", "pos": 588, "freq": 4.73e-4}, {"group": "Male Juvenile NS", "pos": 609, "freq": 4.85e-4}, {"group": "Male Juvenile NS", "pos": 629, "freq": 4.79e-4}, {"group": "Male Juvenile NS", "pos": 650, "freq": 4.91e-4}, {"group": "Male Juvenile NS", "pos": 671, "freq": 4.85e-4}, {"group": "Male Juvenile NS", "pos": 692, "freq": 4.85e-4}, {"group": "Male Juvenile NS", "pos": 712, "freq": 4.79e-4}, {"group": "Male Juvenile NS", "pos": 733, "freq": 4.67e-4}, {"group": "Male Juvenile NS", "pos": 754, "freq": 4.49e-4}, {"group": "Male Juvenile NS", "pos": 774, "freq": 4.55e-4}, {"group": "Male Juvenile NS", "pos": 795, "freq": 4.38e-4}, {"group": "Male Juvenile NS", "pos": 816, "freq": 4.67e-4}, {"group": "Male Juvenile NS", "pos": 836, "freq": 4.49e-4}, {"group": "Male Juvenile NS", "pos": 857, "freq": 4.32e-4}, {"group": "Male Juvenile NS", "pos": 878, "freq": 4.61e-4}, {"group": "Male Juvenile NS", "pos": 899, "freq": 4.32e-4}, {"group": "Male Juvenile NS", "pos": 919, "freq": 4.20e-4}, {"group": "Male Juvenile NS", "pos": 940, "freq": 4.32e-4}, {"group": "Male Juvenile NS", "pos": 961, "freq": 4.20e-4}, {"group": "Male Juvenile NS", "pos": 981, "freq": 4.08e-4}, {"group": "Male Juvenile NS", "pos": 1000, "freq": 4.05e-4},
      {"group": "Male Juvenile S", "pos": -1000, "freq": 4.14e-4}, {"group": "Male Juvenile S", "pos": -986, "freq": 4.32e-4}, {"group": "Male Juvenile S", "pos": -965, "freq": 4.38e-4}, {"group": "Male Juvenile S", "pos": -944, "freq": 4.49e-4}, {"group": "Male Juvenile S", "pos": -923, "freq": 4.67e-4}, {"group": "Male Juvenile S", "pos": -903, "freq": 4.79e-4}, {"group": "Male Juvenile S", "pos": -882, "freq": 5.03e-4}, {"group": "Male Juvenile S", "pos": -861, "freq": 5.15e-4}, {"group": "Male Juvenile S", "pos": -841, "freq": 5.09e-4}, {"group": "Male Juvenile S", "pos": -820, "freq": 5.15e-4}, {"group": "Male Juvenile S", "pos": -799, "freq": 5.21e-4}, {"group": "Male Juvenile S", "pos": -778, "freq": 4.97e-4}, {"group": "Male Juvenile S", "pos": -758, "freq": 5.15e-4}, {"group": "Male Juvenile S", "pos": -737, "freq": 5.21e-4}, {"group": "Male Juvenile S", "pos": -716, "freq": 5.03e-4}, {"group": "Male Juvenile S", "pos": -696, "freq": 4.85e-4}, {"group": "Male Juvenile S", "pos": -675, "freq": 4.73e-4}, {"group": "Male Juvenile S", "pos": -654, "freq": 4.91e-4}, {"group": "Male Juvenile S", "pos": -634, "freq": 5.09e-4}, {"group": "Male Juvenile S", "pos": -613, "freq": 5.15e-4}, {"group": "Male Juvenile S", "pos": -592, "freq": 5.18e-4}, {"group": "Male Juvenile S", "pos": -571, "freq": 4.97e-4}, {"group": "Male Juvenile S", "pos": -551, "freq": 4.67e-4}, {"group": "Male Juvenile S", "pos": -530, "freq": 4.55e-4}, {"group": "Male Juvenile S", "pos": -509, "freq": 4.43e-4}, {"group": "Male Juvenile S", "pos": -489, "freq": 4.26e-4}, {"group": "Male Juvenile S", "pos": -468, "freq": 4.08e-4}, {"group": "Male Juvenile S", "pos": -447, "freq": 4.32e-4}, {"group": "Male Juvenile S", "pos": -427, "freq": 4.67e-4}, {"group": "Male Juvenile S", "pos": -406, "freq": 4.79e-4}, {"group": "Male Juvenile S", "pos": -385, "freq": 4.91e-4}, {"group": "Male Juvenile S", "pos": -364, "freq": 5.15e-4}, {"group": "Male Juvenile S", "pos": -344, "freq": 5.33e-4}, {"group": "Male Juvenile S", "pos": -323, "freq": 5.45e-4}, {"group": "Male Juvenile S", "pos": -302, "freq": 5.51e-4}, {"group": "Male Juvenile S", "pos": -282, "freq": 5.86e-4}, {"group": "Male Juvenile S", "pos": -261, "freq": 5.98e-4}, {"group": "Male Juvenile S", "pos": -240, "freq": 5.86e-4}, {"group": "Male Juvenile S", "pos": -219, "freq": 5.92e-4}, {"group": "Male Juvenile S", "pos": -199, "freq": 6.10e-4}, {"group": "Male Juvenile S", "pos": -178, "freq": 6.16e-4}, {"group": "Male Juvenile S", "pos": -157, "freq": 6.28e-4}, {"group": "Male Juvenile S", "pos": -137, "freq": 6.34e-4}, {"group": "Male Juvenile S", "pos": -116, "freq": 6.46e-4}, {"group": "Male Juvenile S", "pos": -95, "freq": 6.46e-4}, {"group": "Male Juvenile S", "pos": -75, "freq": 6.58e-4}, {"group": "Male Juvenile S", "pos": -54, "freq": 6.76e-4}, {"group": "Male Juvenile S", "pos": -33, "freq": 6.93e-4}, {"group": "Male Juvenile S", "pos": -12, "freq": 7.05e-4}, {"group": "Male Juvenile S", "pos": 4, "freq": 6.70e-4}, {"group": "Male Juvenile S", "pos": 19, "freq": 6.93e-4}, {"group": "Male Juvenile S", "pos": 33, "freq": 7.05e-4}, {"group": "Male Juvenile S", "pos": 50, "freq": 6.70e-4}, {"group": "Male Juvenile S", "pos": 70, "freq": 6.52e-4}, {"group": "Male Juvenile S", "pos": 91, "freq": 6.28e-4}, {"group": "Male Juvenile S", "pos": 112, "freq": 6.16e-4}, {"group": "Male Juvenile S", "pos": 133, "freq": 5.98e-4}, {"group": "Male Juvenile S", "pos": 153, "freq": 5.92e-4}, {"group": "Male Juvenile S", "pos": 174, "freq": 5.86e-4}, {"group": "Male Juvenile S", "pos": 195, "freq": 5.80e-4}, {"group": "Male Juvenile S", "pos": 215, "freq": 5.68e-4}, {"group": "Male Juvenile S", "pos": 236, "freq": 5.51e-4}, {"group": "Male Juvenile S", "pos": 253, "freq": 5.27e-4}, {"group": "Male Juvenile S", "pos": 267, "freq": 5.15e-4}, {"group": "Male Juvenile S", "pos": 288, "freq": 5.03e-4}, {"group": "Male Juvenile S", "pos": 308, "freq": 4.79e-4}, {"group": "Male Juvenile S", "pos": 329, "freq": 4.43e-4}, {"group": "Male Juvenile S", "pos": 350, "freq": 4.14e-4}, {"group": "Male Juvenile S", "pos": 371, "freq": 4.08e-4}, {"group": "Male Juvenile S", "pos": 391, "freq": 4.20e-4}, {"group": "Male Juvenile S", "pos": 412, "freq": 4.14e-4}, {"group": "Male Juvenile S", "pos": 433, "freq": 4.20e-4}, {"group": "Male Juvenile S", "pos": 453, "freq": 4.14e-4}, {"group": "Male Juvenile S", "pos": 474, "freq": 4.08e-4}, {"group": "Male Juvenile S", "pos": 495, "freq": 4.14e-4}, {"group": "Male Juvenile S", "pos": 516, "freq": 4.08e-4}, {"group": "Male Juvenile S", "pos": 536, "freq": 4.08e-4}, {"group": "Male Juvenile S", "pos": 557, "freq": 4.14e-4}, {"group": "Male Juvenile S", "pos": 578, "freq": 4.08e-4}, {"group": "Male Juvenile S", "pos": 598, "freq": 4.08e-4}, {"group": "Male Juvenile S", "pos": 619, "freq": 4.02e-4}, {"group": "Male Juvenile S", "pos": 640, "freq": 4.08e-4}, {"group": "Male Juvenile S", "pos": 660, "freq": 4.32e-4}, {"group": "Male Juvenile S", "pos": 681, "freq": 4.55e-4}, {"group": "Male Juvenile S", "pos": 702, "freq": 4.61e-4}, {"group": "Male Juvenile S", "pos": 723, "freq": 4.61e-4}, {"group": "Male Juvenile S", "pos": 743, "freq": 4.55e-4}, {"group": "Male Juvenile S", "pos": 764, "freq": 4.43e-4}, {"group": "Male Juvenile S", "pos": 785, "freq": 4.32e-4}, {"group": "Male Juvenile S", "pos": 805, "freq": 4.20e-4}, {"group": "Male Juvenile S", "pos": 826, "freq": 4.38e-4}, {"group": "Male Juvenile S", "pos": 847, "freq": 4.32e-4}, {"group": "Male Juvenile S", "pos": 867, "freq": 4.49e-4}, {"group": "Male Juvenile S", "pos": 888, "freq": 4.43e-4}, {"group": "Male Juvenile S", "pos": 909, "freq": 4.49e-4}, {"group": "Male Juvenile S", "pos": 930, "freq": 4.55e-4}, {"group": "Male Juvenile S", "pos": 950, "freq": 4.61e-4}, {"group": "Male Juvenile S", "pos": 971, "freq": 4.79e-4}, {"group": "Male Juvenile S", "pos": 986, "freq": 4.79e-4}, {"group": "Male Juvenile S", "pos": 1000, "freq": 4.64e-4}
    ]
  },
  "vconcat": [
    {
      "spacing": 182,
      "bounds": "flush",
      "hconcat": [
        {
          "width": 471,
          "height": 613,
          "title": {"text": "A", "anchor": "start", "frame": "group", "orient": "top", "offset": 0, "baseline": "top", "dx": -62, "dy": 48, "fontSize": 37, "font": "Open Sans", "fontWeight": "normal", "color": "black"},
          "data": {"name": "widthBoxes"},
          "encoding": {
            "x": {
              "field": "group", "type": "nominal",
              "scale": {"paddingInner": 0.25, "paddingOuter": 0.225},
              "axis": {"title": null, "labelAngle": 0, "labelFont": "Liberation Serif", "labelFontWeight": "bold", "labelFontSize": 14, "labelColor": "black", "labelLineHeight": 17, "labelPadding": 6, "tickSize": 4, "tickColor": "#9a9a9a", "domain": false,
                "labelExpr": "[substring(datum.label, 0, indexof(datum.label, ' ')), substring(datum.label, indexof(datum.label, ' ') + 1)]"}
            }
          },
          "layer": [
            {
              "mark": {"type": "rule", "strokeWidth": 1.3, "opacity": 0.8},
              "encoding": {
                "y": {"field": "lo", "type": "quantitative", "title": "Peak Width (bp)",
                  "scale": {"domain": [-20, 421], "nice": false, "zero": false},
                  "axis": {"values": [0, 100, 200, 300, 400], "labelAngle": -90, "labelAlign": "center", "labelBaseline": "bottom", "labelFontSize": 10, "labelColor": "#7d7d8a", "labelPadding": 2, "tickSize": 3, "tickColor": "#8a8a8a", "domain": false,
                    "titleFont": "Open Sans", "titleFontSize": 20, "titleFontWeight": "normal", "titleColor": "black", "titlePadding": 9, "titleY": 350}},
                "y2": {"field": "hi"},
                "stroke": {"field": "group", "type": "nominal", "legend": null,
                  "scale": {"domain": ["Female Adult", "Male Adult", "Male Juvenile NS", "Male Juvenile S"], "range": ["#F2B532", "#2E5F9C", "#EF3A3F", "#45C97E"]}}
              }
            },
            {
              "mark": {"type": "bar", "strokeWidth": 1.3},
              "encoding": {
                "y": {"field": "q1", "type": "quantitative", "title": "Peak Width (bp)"},
                "y2": {"field": "q3"},
                "fill": {"field": "group", "type": "nominal", "legend": null,
                  "scale": {"domain": ["Female Adult", "Male Adult", "Male Juvenile NS", "Male Juvenile S"], "range": ["#FDF6E7", "#E6EBF3", "#FDE7E8", "#EBF8F0"]}},
                "stroke": {"field": "group", "type": "nominal", "legend": null}
              }
            },
            {
              "mark": {"type": "tick", "thickness": 3, "size": 84},
              "encoding": {
                "y": {"field": "med", "type": "quantitative", "title": "Peak Width (bp)"},
                "color": {"field": "group", "type": "nominal", "legend": null,
                  "scale": {"domain": ["Female Adult", "Male Adult", "Male Juvenile NS", "Male Juvenile S"], "range": ["#F0B024", "#124A8B", "#EC2B31", "#30C471"]}}
              }
            }
          ]
        },
        {
          "width": 459,
          "height": 613,
          "view": {"stroke": "#5c5c5c", "strokeWidth": 1},
          "title": {"text": "B", "anchor": "start", "frame": "group", "orient": "top", "offset": 0, "baseline": "top", "dx": -110, "dy": 48, "fontSize": 37, "font": "Open Sans", "fontWeight": "normal", "color": "black"},
          "encoding": {
            "x": {
              "field": "group", "type": "nominal",
              "scale": {"domain": ["Female Adult", "Male Adult", "Male Juvenile NS", "Male Juvenile S"], "paddingInner": 0.24, "paddingOuter": 0.23},
              "axis": {"title": null, "labelAngle": 0, "labelFont": "Liberation Serif", "labelFontWeight": "bold", "labelFontSize": 14, "labelColor": "black", "labelLineHeight": 17, "labelPadding": 6, "tickSize": 5, "tickColor": "#333333", "domain": false,
                "labelExpr": "[substring(datum.label, 0, indexof(datum.label, ' ')), substring(datum.label, indexof(datum.label, ' ') + 1)]"}
            }
          },
          "layer": [
            {
              "data": {"name": "motifBoxes"},
              "mark": {"type": "rule", "strokeWidth": 1.3, "opacity": 0.8},
              "encoding": {
                "y": {"field": "q3", "type": "quantitative", "title": "Distance to Motif (bp)",
                  "scale": {"domain": [-95, 1995], "nice": false, "zero": false},
                  "axis": {"values": [0, 500, 1000, 1500], "format": "d", "labelFontSize": 10, "labelColor": "#666666", "labelPadding": 2, "tickSize": 5, "tickColor": "#555555", "domain": false,
                    "titleFont": "Liberation Serif", "titleFontSize": 23, "titleFontWeight": "normal", "titleColor": "black", "titlePadding": 9}},
                "y2": {"field": "hi"},
                "stroke": {"field": "group", "type": "nominal", "legend": null,
                  "scale": {"domain": ["Female Adult", "Male Adult", "Male Juvenile NS", "Male Juvenile S"], "range": ["#F2B532", "#2E5F9C", "#EF3A3F", "#45C97E"]}}
              }
            },
            {
              "data": {"name": "motifBoxes"},
              "mark": {"type": "bar", "strokeWidth": 1.3},
              "encoding": {
                "y": {"field": "q1", "type": "quantitative", "title": "Distance to Motif (bp)"},
                "y2": {"field": "q3"},
                "fill": {"field": "group", "type": "nominal", "legend": null,
                  "scale": {"domain": ["Female Adult", "Male Adult", "Male Juvenile NS", "Male Juvenile S"], "range": ["#FDF6E7", "#E6EBF3", "#FDE7E8", "#EBF8F0"]}},
                "stroke": {"field": "group", "type": "nominal", "legend": null}
              }
            },
            {
              "data": {"name": "motifBoxes"},
              "mark": {"type": "tick", "thickness": 4, "size": 83},
              "encoding": {
                "y": {"field": "med", "type": "quantitative", "title": "Distance to Motif (bp)"},
                "color": {"field": "group", "type": "nominal", "legend": null,
                  "scale": {"domain": ["Female Adult", "Male Adult", "Male Juvenile NS", "Male Juvenile S"], "range": ["#F0B024", "#124A8B", "#EC2B31", "#30C471"]}}
              }
            },
            {
              "data": {"name": "outliers"},
              "mark": {"type": "circle", "size": 40, "opacity": 0.26},
              "encoding": {
                "y": {"field": "dist", "type": "quantitative", "title": "Distance to Motif (bp)"},
                "color": {"field": "group", "type": "nominal", "legend": null}
              }
            }
          ]
        }
      ]
    },
    {
      "spacing": 0,
      "bounds": "flush",
      "hconcat": [
        {
          "width": 271,
          "height": 649,
          "data": {"values": []},
          "mark": {"type": "point"},
          "encoding": {}
        },
        {
          "width": 529,
          "height": 649,
          "view": {"stroke": "#5c5c5c", "strokeWidth": 1},
          "title": {"text": "C", "anchor": "start", "frame": "group", "orient": "top", "offset": 0, "baseline": "top", "dx": -117, "dy": 49, "fontSize": 37, "font": "Open Sans", "fontWeight": "normal", "color": "black"},
          "layer": [
            {
              "data": {"name": "profile"},
              "mark": {"type": "line", "interpolate": "step", "strokeWidth": 1.3, "opacity": 0.9},
              "encoding": {
                "x": {"field": "pos", "type": "quantitative", "title": "Genomic Ranges (5’ → 3’)",
                  "scale": {"domain": [-1100, 1100], "nice": false, "zero": false},
                  "axis": {"values": [-1000, -500, 0, 500, 1000], "labelExpr": "datum.value == 0 ? 'TSS' : format(datum.value, 'd')", "labelFontSize": 8, "labelColor": "#555555", "tickSize": 3, "tickColor": "#555555", "labelPadding": 2, "domain": false,
                    "titleFont": "Liberation Serif", "titleFontSize": 23, "titleFontWeight": "normal", "titleColor": "black", "titlePadding": 5}},
                "y": {"field": "freq", "type": "quantitative", "title": "Peak Frequency",
                  "scale": {"domain": [0.00013, 0.000988], "nice": false, "zero": false},
                  "axis": {"values": [0.00025, 0.0005, 0.00075], "format": ".5f", "labelFontSize": 8, "labelColor": "#555555", "tickSize": 3, "tickColor": "#555555", "labelPadding": 2, "domain": false,
                    "titleFont": "Liberation Serif", "titleFontSize": 23, "titleFontWeight": "normal", "titleColor": "black", "titlePadding": 16}},
                "color": {"field": "group", "type": "nominal",
                  "scale": {"domain": ["Female Adult", "Male Adult", "Male Juvenile NS", "Male Juvenile S"], "range": ["#EDB43C", "#2B5A92", "#EC3237", "#3EC57A"]},
                  "legend": {"title": null, "orient": "none", "legendX": 815, "legendY": 300, "padding": 0, "labelFont": "Liberation Serif", "labelFontSize": 14, "labelColor": "black", "symbolType": "stroke", "symbolSize": 576, "symbolStrokeWidth": 2.5, "clipHeight": 17, "rowPadding": 0.7, "labelOffset": 2}}
              }
            },
            {
              "data": {"values": [{"tss": 0}]},
              "mark": {"type": "rule", "strokeDash": [6, 4], "color": "#444444", "strokeWidth": 1.2},
              "encoding": {"x": {"field": "tss", "type": "quantitative"}}
            }
          ]
        }
      ]
    }
  ]
}
